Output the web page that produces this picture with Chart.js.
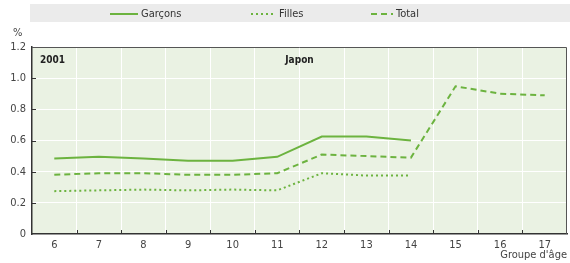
<!DOCTYPE html>
<html>
<head>
<meta charset="utf-8">
<script src="https://cdn.jsdelivr.net/npm/chart.js@4/dist/chart.umd.min.js"></script>
<style>
  html, body { margin: 0; padding: 0; background: #fff; }
  #wrap { width: 570px; height: 263px; position: relative; }
</style>
</head>
<body>
<div id="wrap"><canvas id="chart" width="570" height="263"></canvas></div>
<script>
// Données (Japon, 2001)
const ages = ['6', '7', '8', '9', '10', '11', '12', '13', '14', '15', '16', '17'];
const garcons = [0.485, 0.495, 0.485, 0.47, 0.47, 0.495, 0.625, 0.625, 0.6, null, null, null];
const filles = [0.275, 0.28, 0.285, 0.28, 0.285, 0.28, 0.39, 0.375, 0.376, null, null, null];
const total = [0.38, 0.39, 0.39, 0.38, 0.38, 0.39, 0.51, 0.5, 0.49, 0.948, 0.9, 0.89];
const yTicks = [0, 0.2, 0.4, 0.6, 0.8, 1.0, 1.2];

const vert = '#6cb33f';
const police = "'Liberation Sans Narrow', 'Arial Narrow', 'DejaVu Sans Condensed', sans-serif";

// Fond, cadre, petites graduations et textes
const decor = {
    id: 'decor',
    beforeDraw(chart) {
        const { ctx, chartArea: a } = chart;
        ctx.save();
        ctx.fillStyle = '#ebebeb';
        ctx.fillRect(30, 4, 540, 18);
        ctx.fillStyle = '#eaf2e3';
        ctx.fillRect(a.left, a.top, a.right - a.left, a.bottom - a.top);
        ctx.restore();
    },
    afterDraw(chart) {
        const { ctx, chartArea: a, scales } = chart;
        ctx.save();
        // cadre haut et droit
        ctx.strokeStyle = '#555';
        ctx.lineWidth = 1;
        ctx.beginPath();
        ctx.moveTo(a.left, a.top + 0.5);
        ctx.lineTo(a.right - 0.5, a.top + 0.5);
        ctx.lineTo(a.right - 0.5, a.bottom);
        ctx.stroke();
        // graduations vers l'intérieur
        ctx.strokeStyle = '#333';
        ctx.beginPath();
        const x = scales.x;
        const half = (x.getPixelForValue(1) - x.getPixelForValue(0)) / 2;
        for (let i = 1; i < ages.length; i++) {
            const px = Math.round(x.getPixelForValue(i) - half) + 0.5;
            ctx.moveTo(px, a.bottom);
            ctx.lineTo(px, a.bottom - 4);
        }
        yTicks.forEach(v => {
            if (v === 0 || v === 1.2) return;
            const py = Math.round(scales.y.getPixelForValue(v)) + 0.5;
            ctx.moveTo(a.left, py);
            ctx.lineTo(a.left + 4, py);
        });
        ctx.stroke();

        // légende
        const items = [
            { label: 'Garçons', dash: [], x0: 110, x1: 138 },
            { label: 'Filles', dash: [2, 3], x0: 251, x1: 276 },
            { label: 'Total', dash: [6, 4], x0: 371, x1: 393 }
        ];
        ctx.font = '11px ' + police;
        ctx.textBaseline = 'middle';
        items.forEach(it => {
            ctx.strokeStyle = vert;
            ctx.lineWidth = 2;
            ctx.setLineDash(it.dash);
            ctx.beginPath();
            ctx.moveTo(it.x0, 14);
            ctx.lineTo(it.x1, 14);
            ctx.stroke();
            ctx.setLineDash([]);
            ctx.fillStyle = '#333';
            ctx.textAlign = 'left';
            ctx.fillText(it.label, it.x1 + 3, 14);
        });

        // textes
        ctx.fillStyle = '#444';
        ctx.font = '11px ' + police;
        ctx.textAlign = 'left';
        ctx.fillText('%', 13, 33);
        ctx.textAlign = 'right';
        ctx.fillText("Groupe d'âge", 567, 255);
        ctx.fillStyle = '#222';
        ctx.font = 'bold 10px ' + police;
        ctx.textAlign = 'left';
        ctx.fillText('2001', 40, 60);
        ctx.textAlign = 'center';
        ctx.fillText('Japon', (a.left + a.right) / 2, 60);
        ctx.restore();
    }
};

new Chart(document.getElementById('chart').getContext('2d'), {
    type: 'line',
    data: {
        labels: ages,
        datasets: [
            { label: 'Garçons', data: garcons, borderColor: vert, borderWidth: 2, pointRadius: 0, tension: 0 },
            { label: 'Filles', data: filles, borderColor: vert, borderWidth: 2, borderDash: [2, 3], pointRadius: 0, tension: 0 },
            { label: 'Total', data: total, borderColor: vert, borderWidth: 2, borderDash: [6, 4], pointRadius: 0, tension: 0 }
        ]
    },
    options: {
        responsive: false,
        animation: false,
        layout: { padding: { top: 47, right: 3, left: 0, bottom: 0 } },
        plugins: {
            legend: { display: false },
            tooltip: { enabled: false }
        },
        scales: {
            x: {
                offset: true,
                grid: { offset: true, color: '#ffffff', lineWidth: 1, drawTicks: false },
                border: { color: '#333', width: 1.5 },
                ticks: { color: '#444', font: { family: police, size: 11 }, padding: 5, maxRotation: 0 },
                afterFit(s) { s.height = 29; }
            },
            y: {
                min: 0,
                max: 1.2,
                afterBuildTicks(s) { s.ticks = yTicks.map(v => ({ value: v })); },
                grid: { color: '#ffffff', lineWidth: 1, drawTicks: false },
                border: { color: '#333', width: 1.5 },
                ticks: {
                    color: '#444',
                    font: { family: police, size: 11 },
                    padding: 6,
                    callback: v => v === 0 ? '0' : v.toFixed(1)
                },
                afterFit(s) { s.width = 32; }
            }
        }
    },
    plugins: [decor]
});
</script>
</body>
</html>
